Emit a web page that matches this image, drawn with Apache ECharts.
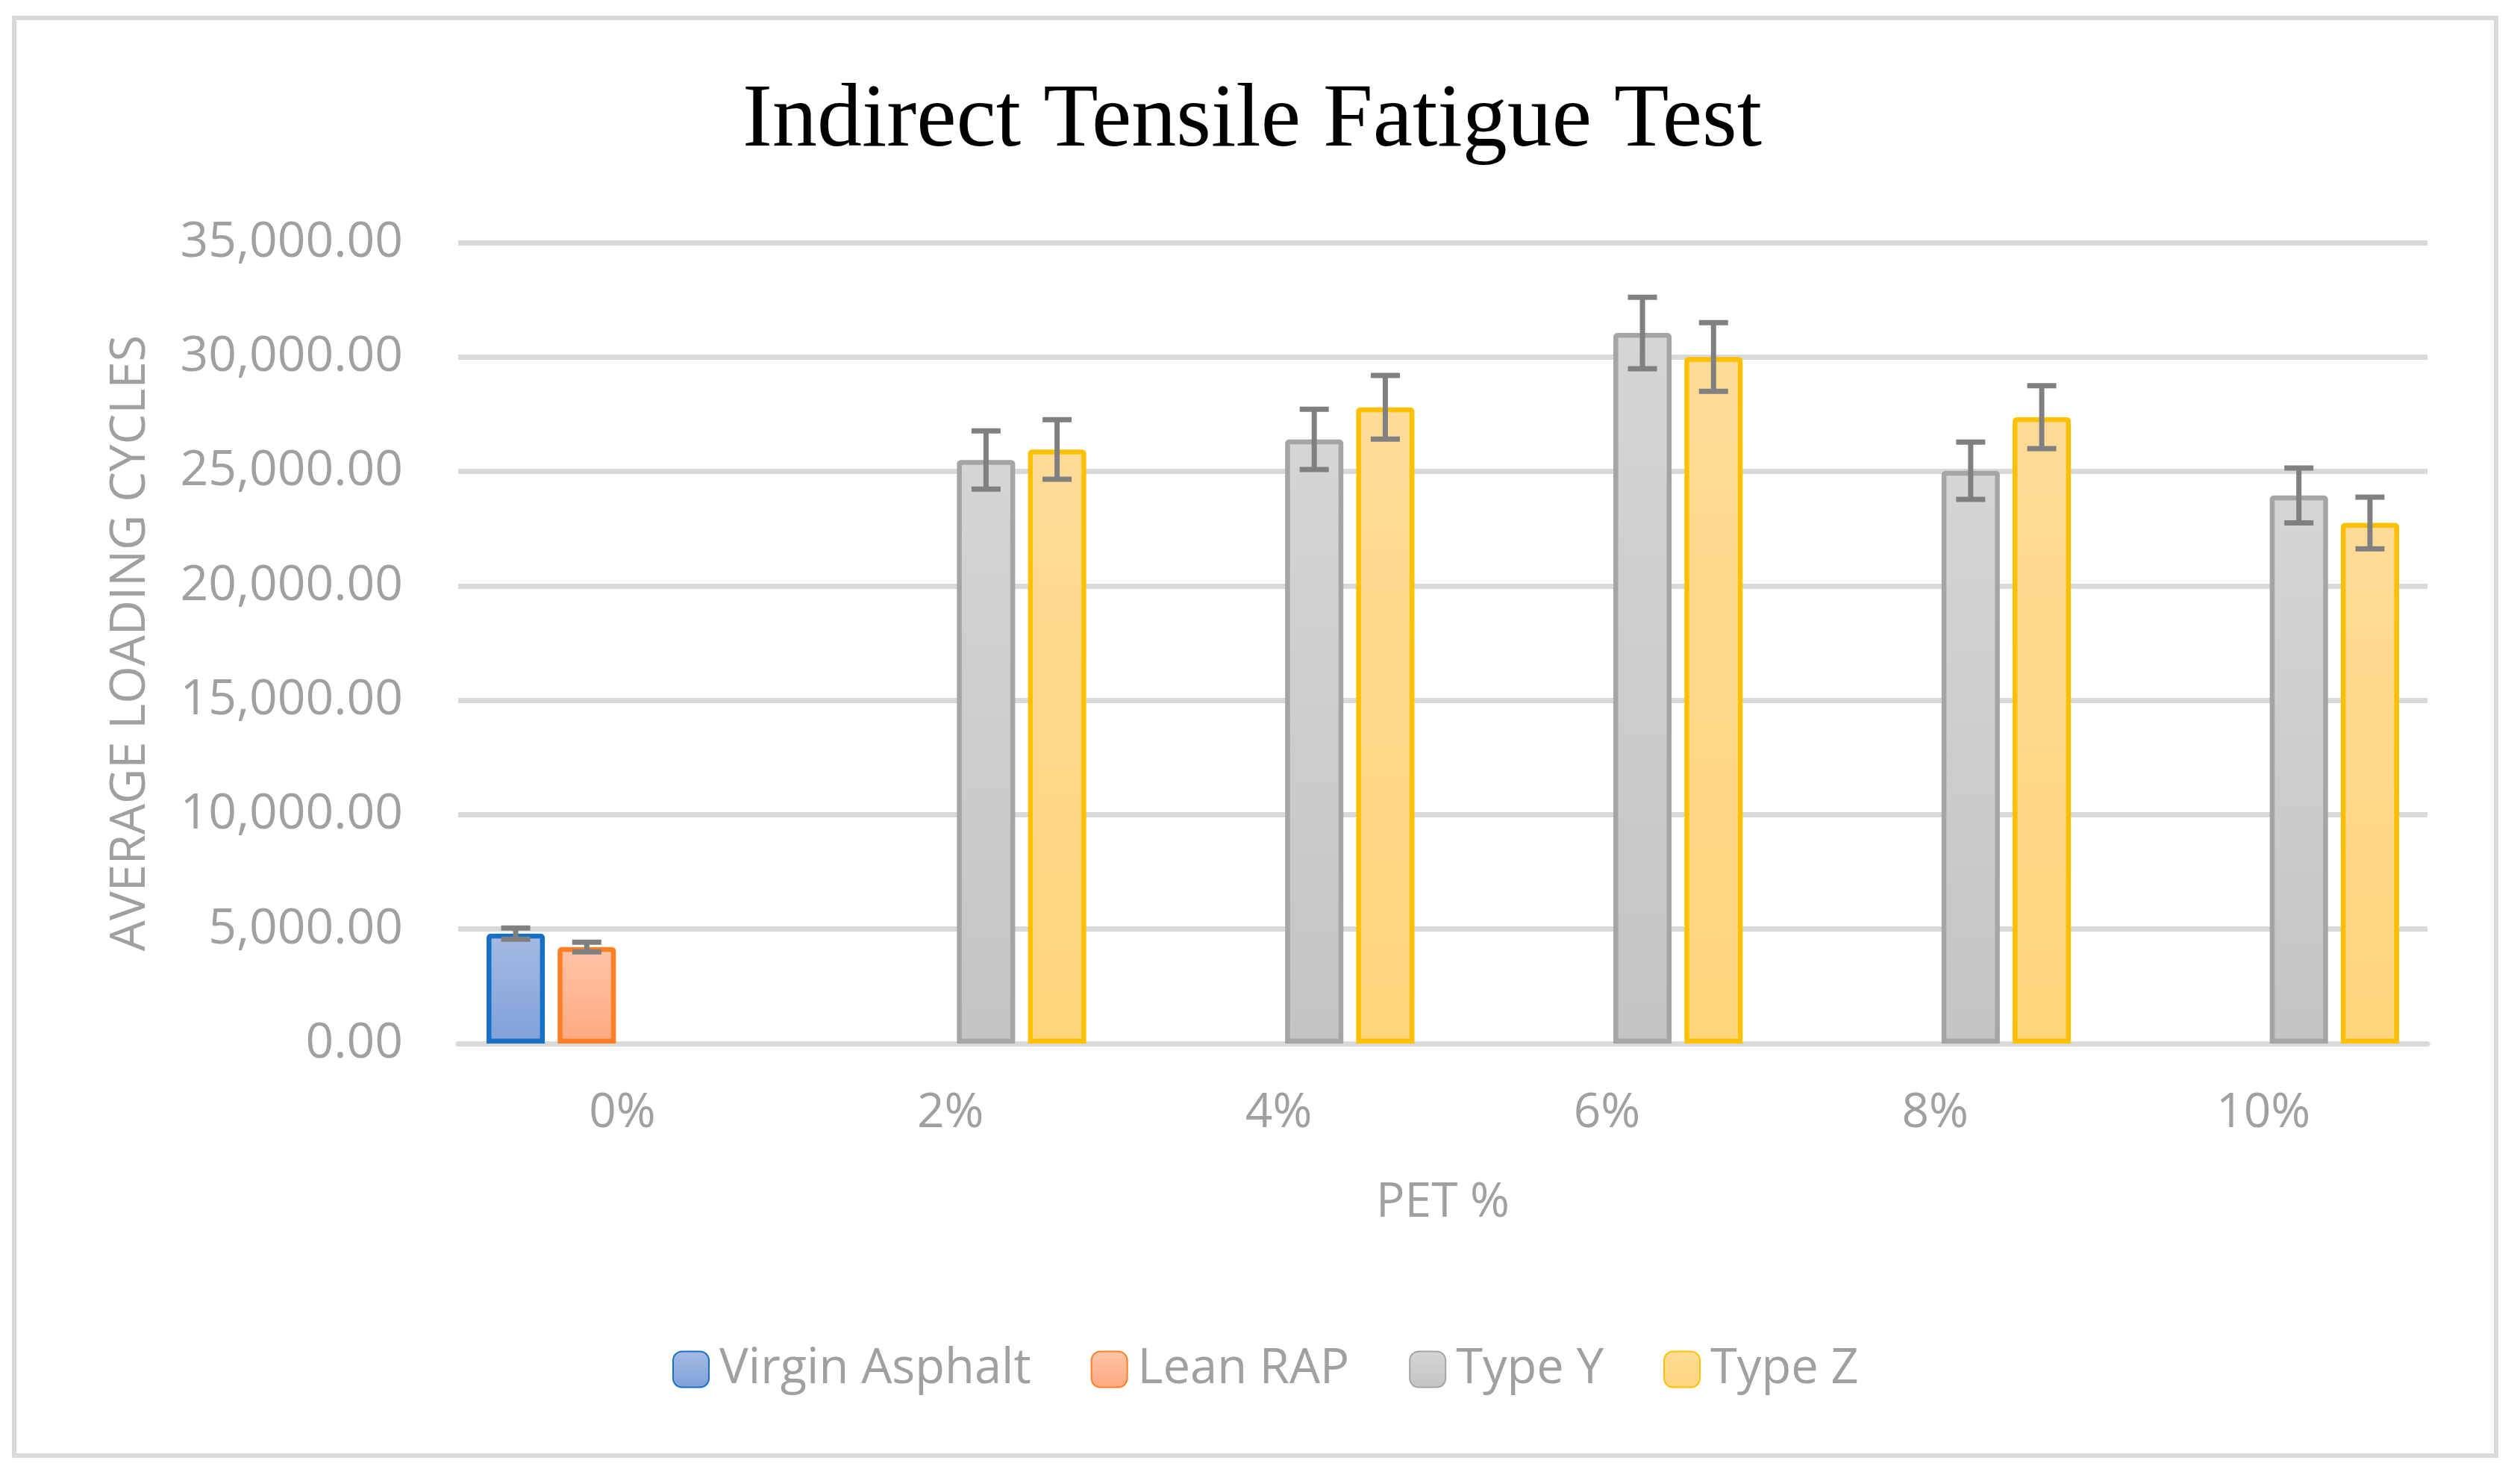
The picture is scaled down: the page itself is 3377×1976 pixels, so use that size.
<!DOCTYPE html>
<html>
<head>
<meta charset="utf-8">
<script src="https://cdn.jsdelivr.net/npm/echarts@6/dist/echarts.min.js"></script>
<style>
html,body{margin:0;padding:0;background:#fff;}
#chart{width:3377px;height:1976px;}
</style>
</head>
<body>
<div id="chart"></div>
<script>
const categories = ['0%', '2%', '4%', '6%', '8%', '10%'];
const seriesNames = ['Virgin Asphalt', 'Lean RAP', 'Type Y', 'Type Z'];
const virginAsphalt = [4800, null, null, null, null, null];
const leanRap = [4220, null, null, null, null, null];
const typeY = [null, 25500, 26400, 31050, 25030, 23950];
const typeZ = [null, 25960, 27800, 30000, 27370, 22750];
const virginErr = [245, null, null, null, null, null];
const leanRapErr = [212, null, null, null, null, null];
const typeYErr = [null, 1275, 1320, 1560, 1250, 1200];
const typeZErr = [null, 1300, 1390, 1500, 1372, 1130];
const yTicks = { min: 0, max: 35000, interval: 5000 };

const values = [virginAsphalt, leanRap, typeY, typeZ];
const errs = [virginErr, leanRapErr, typeYErr, typeZErr];
const borders = ['#1570c6', '#ff7f27', '#a5a5a5', '#ffc000'];
const fillTop = ['#a6bae3', '#ffc4a8', '#d5d5d5', '#fedc97'];
const fillBot = ['#7ea1d9', '#ffa97f', '#c4c4c4', '#ffd57c'];

const CAT_GAP = 0.173, BAR_GAP = 0.22, N = 4;

function grad(i) {
  return new echarts.graphic.LinearGradient(0, 0, 0, 1, [
    { offset: 0, color: fillTop[i] },
    { offset: 1, color: fillBot[i] }
  ]);
}

const series = [];
values.forEach((vals, i) => {
  series.push({
    name: seriesNames[i],
    type: 'bar',
    data: vals,
    barCategoryGap: (CAT_GAP * 100) + '%',
    barGap: (BAR_GAP * 100) + '%',
    itemStyle: { color: grad(i), borderColor: borders[i], borderWidth: 6.5, borderRadius: [2, 2, 0, 0] },
    emphasis: { disabled: true },
    z: 2
  });
});

values.forEach((vals, i) => {
  const data = [];
  vals.forEach((v, ci) => { if (v != null) data.push([ci, v, errs[i][ci]]); });
  series.push({
    type: 'custom',
    name: seriesNames[i] + ' err',
    data: data,
    z: 5,
    encode: { x: 0, y: 1 },
    renderItem: function (params, api) {
      const ci = api.value(0), v = api.value(1), e = api.value(2);
      const c = api.coord([ci, v]);
      const band = api.size([1, 0])[0];
      const bw = band * (1 - CAT_GAP) / (N + (N - 1) * BAR_GAP);
      const total = N * bw + (N - 1) * bw * BAR_GAP;
      const x = c[0] - total / 2 + i * bw * (1 + BAR_GAP) + bw / 2;
      const yt = api.coord([ci, v + e])[1];
      const yb = api.coord([ci, v - e])[1];
      const hw = 19.5;
      const st = { stroke: '#808080', lineWidth: 7 };
      return {
        type: 'group',
        children: [
          { type: 'line', shape: { x1: x, y1: yt, x2: x, y2: yb }, style: st },
          { type: 'line', shape: { x1: x - hw, y1: yt, x2: x + hw, y2: yt }, style: st },
          { type: 'line', shape: { x1: x - hw, y1: yb, x2: x + hw, y2: yb }, style: st }
        ]
      };
    }
  });
});

function fmt(v) {
  return v.toLocaleString('en-US', { minimumFractionDigits: 2, maximumFractionDigits: 2 });
}

const chart = echarts.init(document.getElementById('chart'), null, { renderer: 'canvas' });
chart.setOption({
  backgroundColor: '#ffffff',
  animation: false,
  graphic: [{
    type: 'rect',
    shape: { x: 19, y: 24, width: 3326, height: 1926 },
    style: { fill: 'none', stroke: '#d9d9d9', lineWidth: 6 },
    silent: true
  }],
  title: {
    text: 'Indirect Tensile Fatigue Test',
    left: 990,
    top: 98,
    textStyle: { fontFamily: 'Liberation Serif', fontSize: 120, fontWeight: 'normal', color: '#000000' }
  },
  legend: {
    data: seriesNames,
    left: 896,
    top: 1797,
    itemWidth: 48,
    itemHeight: 48,
    itemGap: 80,
    icon: 'roundRect',
    textStyle: { fontFamily: 'Open Sans', fontSize: 65, color: '#a0a0a0', padding: [0, 0, 0, 9] }
  },
  grid: { left: 614, right: 124, top: 325, bottom: 578 },
  xAxis: {
    type: 'category',
    data: categories,
    name: 'PET %',
    nameLocation: 'middle',
    nameGap: 182,
    nameTextStyle: { fontFamily: 'Open Sans', fontSize: 64, color: '#a0a0a0' },
    axisTick: { show: false },
    axisLine: { lineStyle: { color: '#d9d9d9', width: 7 } },
    axisLabel: { fontFamily: 'Open Sans', fontSize: 64, color: '#a0a0a0', margin: 62 }
  },
  yAxis: {
    type: 'value',
    min: yTicks.min,
    max: yTicks.max,
    interval: yTicks.interval,
    name: 'AVERAGE LOADING CYCLES',
    nameLocation: 'middle',
    nameGap: 406,
    nameTextStyle: { fontFamily: 'Open Sans', fontSize: 65, color: '#a0a0a0' },
    axisLine: { show: false },
    axisTick: { show: false },
    splitLine: { lineStyle: { color: '#d9d9d9', width: 7 } },
    axisLabel: { fontFamily: 'Open Sans', fontSize: 66, color: '#a0a0a0', margin: 74, formatter: fmt }
  },
  series: series
});
</script>
</body>
</html>
